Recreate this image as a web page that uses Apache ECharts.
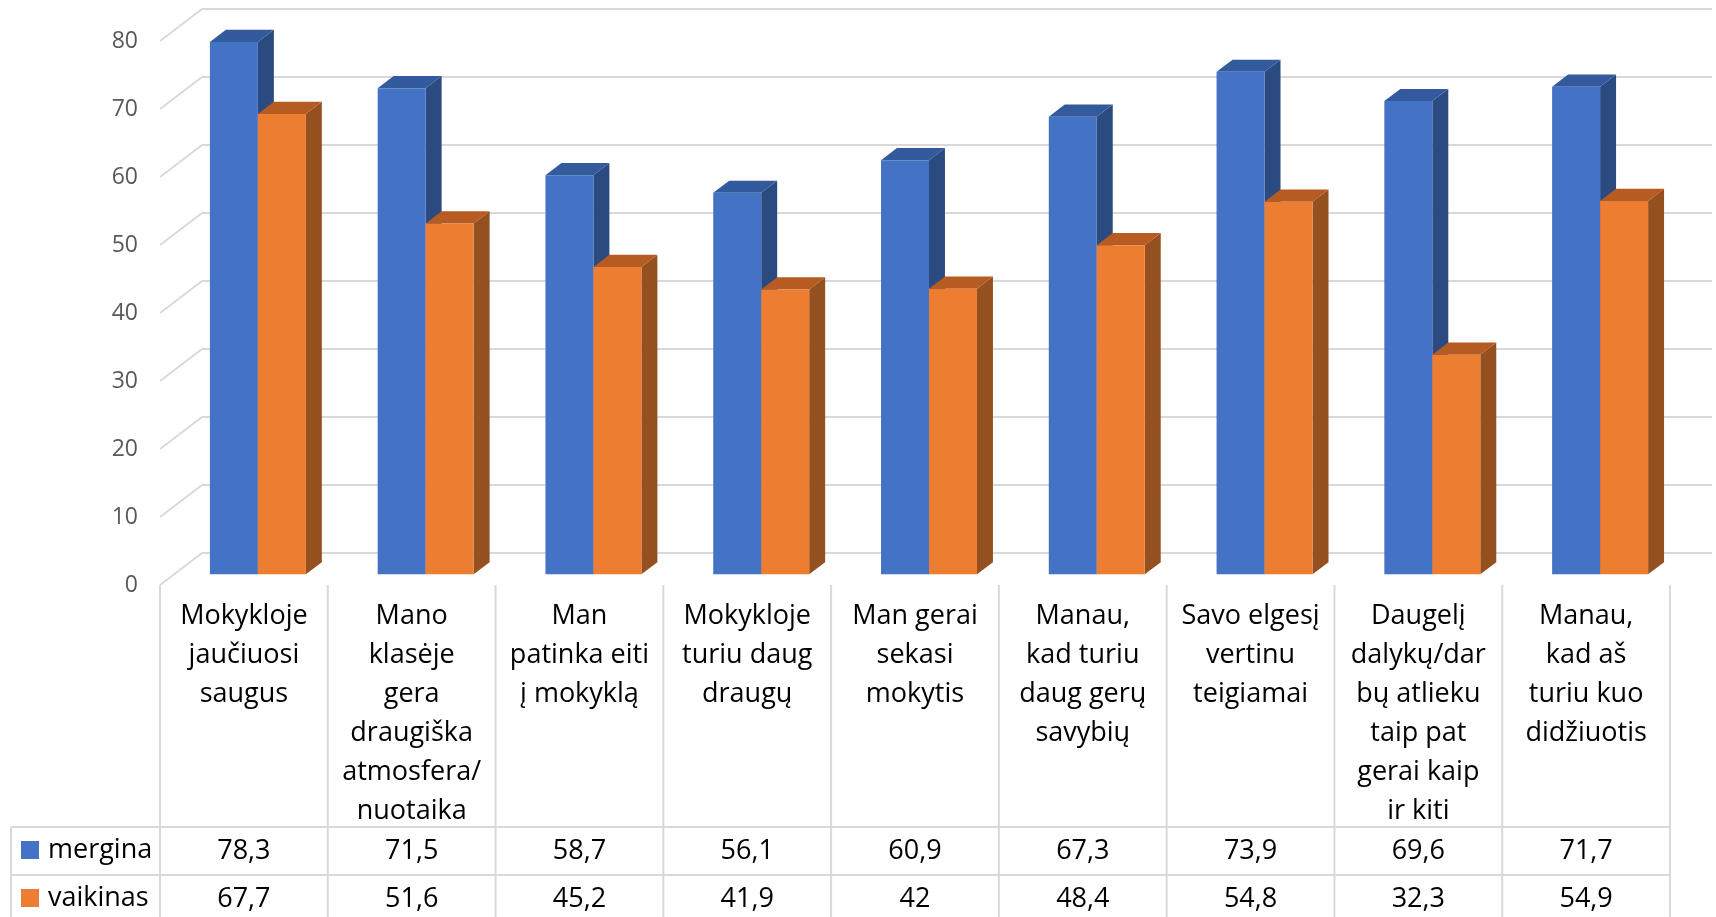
<!DOCTYPE html>
<html>
<head>
<meta charset="utf-8">
<script src="https://cdn.jsdelivr.net/npm/echarts@6/dist/echarts.min.js"></script>
<style>
html,body{margin:0;padding:0;background:#fff;}
#chart{width:1716px;height:917px;}
</style>
</head>
<body>
<div id="chart"></div>
<script>
const categories = [
  "Mokykloje\njaučiuosi\nsaugus",
  "Mano\nklasėje\ngera\ndraugiška\natmosfera/\nnuotaika",
  "Man\npatinka eiti\nį mokyklą",
  "Mokykloje\nturiu daug\ndraugų",
  "Man gerai\nsekasi\nmokytis",
  "Manau,\nkad turiu\ndaug gerų\nsavybių",
  "Savo elgesį\nvertinu\nteigiamai",
  "Daugelį\ndalykų/dar\nbų atlieku\ntaip pat\ngerai kaip\nir kiti",
  "Manau,\nkad aš\nturiu kuo\ndidžiuotis"
];
const mergina  = [78.3, 71.5, 58.7, 56.1, 60.9, 67.3, 73.9, 69.6, 71.7];
const vaikinas = [67.7, 51.6, 45.2, 41.9, 42.0, 48.4, 54.8, 32.3, 54.9];
const yTicks = [0, 10, 20, 30, 40, 50, 60, 70, 80];
const seriesNames = ["mergina", "vaikinas"];

const FONT = "'Open Sans', sans-serif";
const DEPTH_X = 42, DEPTH_Y = -32;   // wall depth projection
const BAR_POS = 1 / 3;               // bars sit at 1/3 of the depth
const BAR_DEPTH = 0.38;              // bar thickness as share of depth
const BAR_FRAC = 0.286;              // bar width as share of band
const GRID_COLOR = '#d9d9d9';
const ROW1_TOP = 827, ROW2_TOP = 875, TABLE_BOTTOM = 930, LEGEND_X = 11;
const ROW_H = 48;

const palette = {
  mergina:  { front: '#4472C4', top: '#335A9C', side: '#2A4A80' },
  vaikinas: { front: '#ED7D31', top: '#B65B21', side: '#95501F' }
};

function fmt(v) { return String(v).replace('.', ','); }

function barRenderer(sideSign, col) {
  return function (params, api) {
    const i = api.value(0), v = api.value(1);
    const base = api.coord([i, 0]);
    const top = api.coord([i, v]);
    const band = api.size([1, 0])[0];
    const bw = band * BAR_FRAC;
    const ox = DEPTH_X * BAR_POS, oy = DEPTH_Y * BAR_POS;
    const x0 = base[0] + ox + (sideSign < 0 ? -bw : 0);
    const x1 = x0 + bw;
    const yb = base[1] + oy, yt = top[1] + oy;
    const dx = DEPTH_X * BAR_DEPTH, dy = DEPTH_Y * BAR_DEPTH;
    return {
      type: 'group',
      children: [
        { type: 'polygon', shape: { points: [[x1, yb], [x1 + dx, yb + dy], [x1 + dx, yt + dy], [x1, yt]] }, style: { fill: col.side } },
        { type: 'polygon', shape: { points: [[x0, yt], [x0 + dx, yt + dy], [x1 + dx, yt + dy], [x1, yt]] }, style: { fill: col.top } },
        { type: 'rect', shape: { x: x0, y: yt, width: bw, height: yb - yt }, style: { fill: col.front } }
      ]
    };
  };
}

function wallRenderer(params, api) {
  const v = api.value(1);
  const y = api.coord([0, v])[1];
  const cs = params.coordSys;
  const x = cs.x;
  const ls = { stroke: GRID_COLOR, lineWidth: 2 };
  return {
    type: 'group',
    children: [
      { type: 'line', shape: { x1: x, y1: y, x2: x + DEPTH_X, y2: y + DEPTH_Y }, style: ls },
      { type: 'line', shape: { x1: x + DEPTH_X, y1: y + DEPTH_Y, x2: x + cs.width + DEPTH_X, y2: y + DEPTH_Y }, style: ls }
    ]
  };
}

function tableRenderer(params, api) {
  const i = api.value(0);
  const p = api.coord([i, 0]);
  const cx = p[0], top = p[1];
  const band = api.size([1, 0])[0];
  const left = cx - band / 2, right = cx + band / 2;
  const ls = { stroke: GRID_COLOR, lineWidth: 2 };
  const ts = { fill: '#000', font: "27px " + FONT, textAlign: 'center', textVerticalAlign: 'middle' };
  const children = [
    { type: 'line', shape: { x1: left, y1: top, x2: left, y2: TABLE_BOTTOM }, style: ls },
    { type: 'line', shape: { x1: left, y1: ROW1_TOP, x2: right, y2: ROW1_TOP }, style: ls },
    { type: 'line', shape: { x1: left, y1: ROW2_TOP, x2: right, y2: ROW2_TOP }, style: ls },
    { type: 'text', style: Object.assign({ x: cx, y: ROW1_TOP + ROW_H / 2, text: fmt(api.value(1)) }, ts) },
    { type: 'text', style: Object.assign({ x: cx, y: ROW2_TOP + ROW_H / 2, text: fmt(api.value(2)) }, ts) }
  ];
  if (i === categories.length - 1) {
    children.push({ type: 'line', shape: { x1: right, y1: top, x2: right, y2: TABLE_BOTTOM }, style: ls });
  }
  if (i === 0) {
    children.push({ type: 'line', shape: { x1: LEGEND_X, y1: ROW1_TOP, x2: left, y2: ROW1_TOP }, style: ls });
    children.push({ type: 'line', shape: { x1: LEGEND_X, y1: ROW2_TOP, x2: left, y2: ROW2_TOP }, style: ls });
    children.push({ type: 'line', shape: { x1: LEGEND_X, y1: ROW1_TOP, x2: LEGEND_X, y2: TABLE_BOTTOM }, style: ls });
  }
  return { type: 'group', children: children };
}

const chart = echarts.init(document.getElementById('chart'), null, { renderer: 'canvas' });
chart.setOption({
  animation: false,
  backgroundColor: '#fff',
  textStyle: { fontFamily: FONT },
  legend: {
    orient: 'vertical',
    left: 21,
    top: 835,
    padding: 0,
    itemWidth: 18,
    itemHeight: 18,
    itemGap: 18,
    icon: 'rect',
    selectedMode: false,
    data: seriesNames,
    textStyle: { fontSize: 27, fontFamily: FONT, color: '#000', lineHeight: 30, padding: [0, 0, 0, 4] }
  },
  grid: { left: 160, top: 41, width: 1510, height: 544, containLabel: false },
  xAxis: {
    type: 'category',
    data: categories,
    boundaryGap: true,
    axisLine: { show: false },
    axisTick: { show: false },
    splitLine: { show: false },
    axisLabel: {
      interval: 0,
      margin: 12,
      fontSize: 27,
      lineHeight: 39,
      color: '#000',
      fontFamily: FONT,
      align: 'center'
    }
  },
  yAxis: {
    type: 'value',
    min: 0,
    max: 80,
    interval: 10,
    axisLine: { show: false },
    axisTick: { show: false },
    splitLine: { show: false },
    axisLabel: { margin: 22, fontSize: 23, color: '#595959', fontFamily: FONT }
  },
  series: [
    {
      type: 'custom', name: 'wall', silent: true, z: 1,
      renderItem: wallRenderer,
      encode: { x: 0, y: 1 },
      data: yTicks.map(v => [0, v])
    },
    {
      type: 'custom', name: seriesNames[0], silent: true, z: 2,
      itemStyle: { color: palette.mergina.front },
      renderItem: barRenderer(-1, palette.mergina),
      encode: { x: 0, y: 1 },
      data: mergina.map((v, i) => [i, v])
    },
    {
      type: 'custom', name: seriesNames[1], silent: true, z: 3,
      itemStyle: { color: palette.vaikinas.front },
      renderItem: barRenderer(1, palette.vaikinas),
      encode: { x: 0, y: 1 },
      data: vaikinas.map((v, i) => [i, v])
    },
    {
      type: 'custom', name: 'table', silent: true, z: 1,
      renderItem: tableRenderer,
      encode: { x: 0, y: 1 },
      data: categories.map((c, i) => [i, mergina[i], vaikinas[i]])
    }
  ]
});
</script>
</body>
</html>
